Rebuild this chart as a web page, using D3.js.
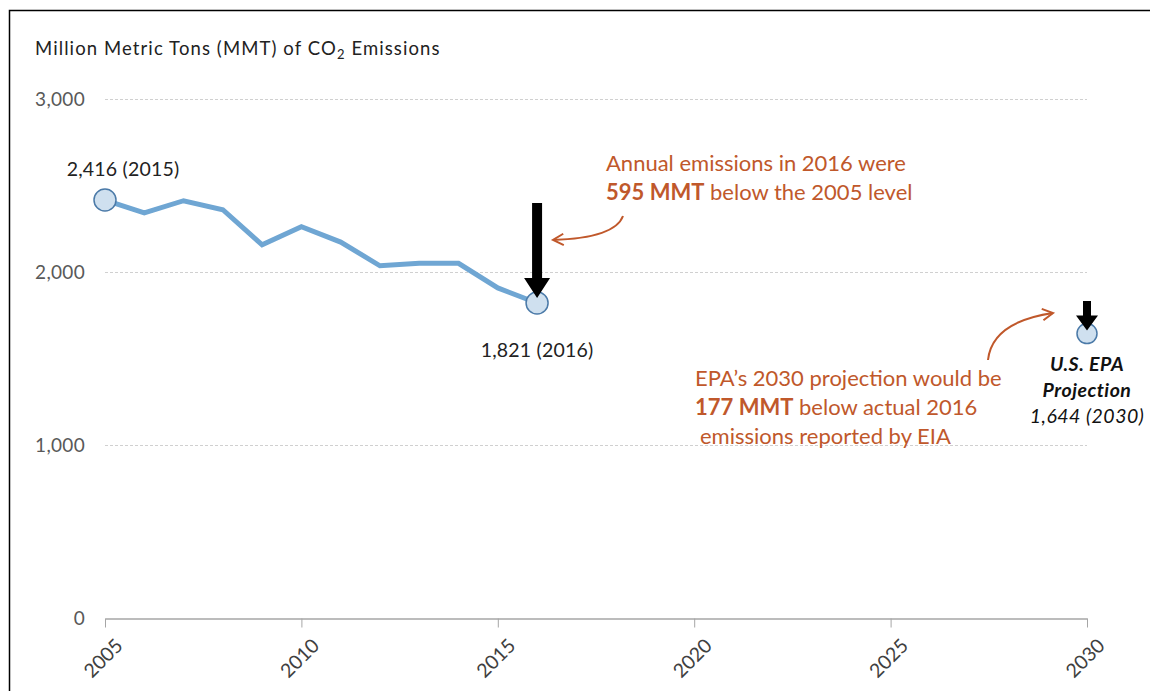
<!DOCTYPE html>
<html>
<head>
<meta charset="utf-8">
<script src="https://cdn.jsdelivr.net/npm/d3@7"></script>
<style>
  body { margin: 0; background: #fff; }
  svg text { font-family: Lato, "Open Sans", sans-serif; }
</style>
</head>
<body>
<svg id="chart" width="1150" height="691"></svg>
<script>
// data
const years = [2005, 2006, 2007, 2008, 2009, 2010, 2011, 2012, 2013, 2014, 2015, 2016];
const emissions = [2416, 2342, 2412, 2360, 2157, 2262, 2173, 2036, 2050, 2050, 1908, 1821];
const projYear = [2030];
const projValue = [1644];
const yTicks = [0, 1000, 2000, 3000];
const xTicks = [2005, 2010, 2015, 2020, 2025, 2030];

const orange = '#c0582b';

const svg = d3.select('#chart');

// frame (top + left only)
svg.append('path')
  .attr('d', 'M9.5,691 L9.5,10.5 L1150,10.5')
  .attr('fill', 'none')
  .attr('stroke', '#000')
  .attr('stroke-width', 1.5);

const x = d3.scaleLinear().domain([2005, 2030]).range([105, 1087]);
const y = d3.scaleLinear().domain([0, 3000]).range([618, 99]);

// title
const title = svg.append('text')
  .attr('x', 35).attr('y', 55)
  .attr('font-size', 18.5)
  .attr('letter-spacing', 1.1)
  .attr('fill', '#222');
title.append('tspan').text('Million Metric Tons (MMT) of CO');
title.append('tspan').attr('font-size', 13).attr('dy', 4).text('2');
title.append('tspan').attr('dy', -4).text(' Emissions');

// gridlines
svg.append('g')
  .selectAll('line')
  .data(yTicks.filter(d => d > 0))
  .enter().append('line')
  .attr('x1', x(2005)).attr('x2', x(2030))
  .attr('y1', d => y(d) + 0.5).attr('y2', d => y(d) + 0.5)
  .attr('stroke', '#d0d0d0')
  .attr('stroke-dasharray', '3,2');

// y axis labels
const yAxis = svg.append('g')
  .attr('transform', 'translate(' + (x(2005) - 20) + ',0)')
  .call(d3.axisLeft(y).tickValues(yTicks).tickFormat(d3.format(',')).tickSize(0).tickPadding(0));
yAxis.select('.domain').remove();
yAxis.selectAll('text')
  .attr('font-size', 19)
  .attr('letter-spacing', 0.3)
  .attr('fill', '#595959')
  .attr('font-family', 'Lato, "Open Sans", sans-serif');

// x axis
const xAxis = svg.append('g')
  .attr('transform', 'translate(0,' + (y(0) + 0.5) + ')')
  .call(d3.axisBottom(x).tickValues(xTicks).tickFormat(d3.format('d')).tickSize(9).tickSizeOuter(0));
xAxis.select('.domain').attr('stroke', '#a6a6a6').attr('stroke-width', 1.5);
xAxis.selectAll('.tick line').attr('stroke', '#a6a6a6');
xAxis.selectAll('text')
  .attr('font-size', 19.5)
  .attr('fill', '#404040')
  .attr('font-family', 'Lato, "Open Sans", sans-serif')
  .attr('text-anchor', 'end')
  .attr('dy', 0)
  .attr('transform', 'translate(10,20) rotate(-45)');

// line
const line = d3.line()
  .x((d, i) => x(years[i]))
  .y(d => y(d));

svg.append('path')
  .datum(emissions)
  .attr('d', line)
  .attr('fill', 'none')
  .attr('stroke', '#6fa6d3')
  .attr('stroke-width', 5)
  .attr('stroke-linejoin', 'miter');

// highlighted points
const pts = [
  { yr: years[0], v: emissions[0], r: 11 },
  { yr: years[years.length - 1], v: emissions[emissions.length - 1], r: 11 },
  { yr: projYear[0], v: projValue[0], r: 10 }
];
svg.selectAll('circle.pt')
  .data(pts)
  .enter().append('circle')
  .attr('class', 'pt')
  .attr('cx', d => x(d.yr))
  .attr('cy', d => y(d.v))
  .attr('r', d => d.r)
  .attr('fill', '#cfe0ef')
  .attr('stroke', '#4b7aa8')
  .attr('stroke-width', 1.5);

// point labels
svg.append('text')
  .attr('x', x(2005) + 18).attr('y', 176)
  .attr('text-anchor', 'middle')
  .attr('font-size', 19.5).attr('letter-spacing', 0.2).attr('fill', '#222')
  .text('2,416 (2015)');

svg.append('text')
  .attr('x', x(2016)).attr('y', 357)
  .attr('text-anchor', 'middle')
  .attr('font-size', 19.5).attr('letter-spacing', 0.2).attr('fill', '#222')
  .text('1,821 (2016)');

// black arrows
function blockArrow(cx, top, tip, shaftW, headW, headH) {
  const p = d3.path();
  p.moveTo(cx - shaftW / 2, top);
  p.lineTo(cx + shaftW / 2, top);
  p.lineTo(cx + shaftW / 2, tip - headH);
  p.lineTo(cx + headW / 2, tip - headH);
  p.lineTo(cx, tip);
  p.lineTo(cx - headW / 2, tip - headH);
  p.lineTo(cx - shaftW / 2, tip - headH);
  p.closePath();
  svg.append('path').attr('d', p.toString()).attr('fill', '#000');
}
blockArrow(x(2016), 203, y(1821) - 5, 10, 26, 20);
blockArrow(x(2030), 301, y(1644) - 3, 8, 22, 15);

// curved annotation arrows
function curvedArrow(d, ex, ey, angle) {
  svg.append('path')
    .attr('d', d)
    .attr('fill', 'none')
    .attr('stroke', orange)
    .attr('stroke-width', 2);
  const len = 12, spread = 0.5;
  const a1 = angle + Math.PI - spread, a2 = angle + Math.PI + spread;
  svg.append('path')
    .attr('d', 'M' + (ex + len * Math.cos(a1)) + ',' + (ey + len * Math.sin(a1)) +
      'L' + ex + ',' + ey +
      'L' + (ex + len * Math.cos(a2)) + ',' + (ey + len * Math.sin(a2)))
    .attr('fill', 'none')
    .attr('stroke', orange)
    .attr('stroke-width', 2);
}
curvedArrow('M623,216 Q615,238 553,240', 553, 240, Math.PI - 0.05);
curvedArrow('M988,360 Q992,322 1053,313', 1053, 313, -0.15);

// annotation texts
const t1 = svg.append('text').attr('font-size', 22).attr('fill', orange);
t1.append('tspan').attr('x', 606).attr('y', 171).text('Annual emissions in 2016 were');
const t1b = t1.append('tspan').attr('x', 606).attr('y', 200);
t1b.append('tspan').attr('font-weight', 'bold').text('595 MMT');
t1b.append('tspan').text(' below the 2005 level');

const t2 = svg.append('text').attr('font-size', 22).attr('fill', orange);
t2.append('tspan').attr('x', 695).attr('y', 386).text('EPA\u2019s 2030 projection would be');
const t2b = t2.append('tspan').attr('x', 695).attr('y', 415);
t2b.append('tspan').attr('font-weight', 'bold').text('177 MMT');
t2b.append('tspan').text(' below actual 2016');
t2.append('tspan').attr('x', 700).attr('y', 444).text('emissions reported by EIA');

// projection label
const t3 = svg.append('text')
  .attr('text-anchor', 'middle')
  .attr('font-size', 19.5)
  .attr('letter-spacing', 0.5)
  .attr('font-style', 'italic')
  .attr('fill', '#111');
t3.append('tspan').attr('x', x(2030)).attr('y', 371).attr('font-weight', 'bold').text('U.S. EPA');
t3.append('tspan').attr('x', x(2030)).attr('y', 397).attr('font-weight', 'bold').text('Projection');
t3.append('tspan').attr('x', x(2030)).attr('y', 423).text('1,644 (2030)');
</script>
</body>
</html>
